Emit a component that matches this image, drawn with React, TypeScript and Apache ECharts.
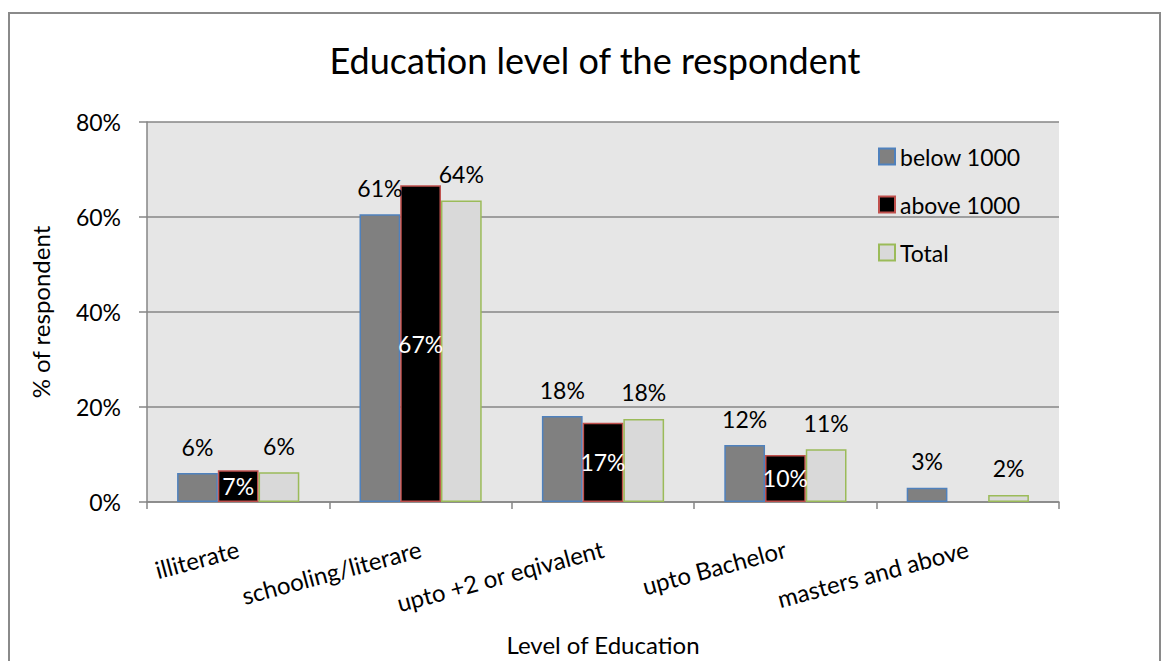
import React, { useEffect, useRef } from "react";
import * as echarts from "echarts";

const categories = [
  "illiterate",
  "schooling/literare",
  "upto +2 or eqivalent",
  "upto Bachelor",
  "masters and above",
];
const below1000 = [6.1, 60.6, 18.1, 12.0, 3.0];
const above1000 = [6.7, 66.7, 16.7, 9.9, null];
const total = [6.25, 63.5, 17.5, 11.1, 1.5];
const yTicks = { min: 0, max: 80, interval: 20 };

const FONT = "Lato, 'Open Sans', sans-serif";

export default function App() {
  const ref = useRef<HTMLDivElement>(null);
  useEffect(() => {
    document.body.style.margin = "0";
    const chart = echarts.init(ref.current!, null, { renderer: "svg" });
    const fmt = (p: any) =>
      p.value == null ? "" : Math.round(p.value) + "%";
    const outerLabel = {
      show: true,
      position: "top",
      distance: 15,
      color: "#000",
      fontSize: 23,
      fontFamily: FONT,
      formatter: fmt,
    };
    chart.setOption({
      animation: false,
      backgroundColor: "#ffffff",
      textStyle: { fontFamily: FONT },
      graphic: [
        {
          type: "rect",
          shape: { x: 9, y: 13, width: 1151, height: 700 },
          style: { fill: "none", stroke: "#8a8a8a", lineWidth: 2 },
          silent: true,
        },
      ],
      title: {
        text: "Education level of the respondent",
        left: 590,
        textAlign: "center",
        top: 37,
        textStyle: {
          fontFamily: FONT,
          fontSize: 36,
          fontWeight: "normal",
          color: "#000",
        },
      },
      legend: {
        orient: "vertical",
        left: 873,
        top: 139,
        itemWidth: 16,
        itemHeight: 16,
        itemGap: 23,
        icon: "rect",
        textStyle: {
          fontFamily: FONT,
          fontSize: 23,
          lineHeight: 25,
          color: "#000",
        },
        data: ["below 1000", "above 1000", "Total"],
      },
      grid: {
        left: 147,
        top: 122,
        right: 103,
        bottom: 155,
        show: true,
        backgroundColor: "#e6e6e6",
        borderWidth: 0,
      },
      xAxis: {
        type: "category",
        data: categories,
        name: "Level of Education",
        nameLocation: "middle",
        nameGap: 130,
        nameTextStyle: { fontFamily: FONT, fontSize: 24, color: "#000" },
        axisLine: { show: true, lineStyle: { color: "#868686", width: 1.5 } },
        axisTick: { show: true, length: 7, lineStyle: { color: "#868686", width: 1.5 } },
        axisLabel: {
          rotate: 15,
          margin: 46,
          fontSize: 24,
          fontFamily: FONT,
          color: "#000",
          interval: 0,
        },
      },
      yAxis: {
        type: "value",
        min: yTicks.min,
        max: yTicks.max,
        interval: yTicks.interval,
        name: "% of respondent",
        nameLocation: "middle",
        nameGap: 95,
        nameRotate: 90,
        nameTextStyle: { fontFamily: FONT, fontSize: 24, color: "#000" },
        axisLine: { show: true, lineStyle: { color: "#868686", width: 1.5 } },
        axisTick: { show: true, length: 8, lineStyle: { color: "#868686", width: 1.5 } },
        axisLabel: {
          formatter: "{value}%",
          margin: 26,
          fontSize: 23,
          fontFamily: FONT,
          color: "#000",
        },
        splitLine: { show: true, lineStyle: { color: "#868686", width: 1.5 } },
      },
      series: [
        {
          name: "below 1000",
          type: "bar",
          data: below1000,
          barGap: "0%",
          barCategoryGap: "33%",
          itemStyle: { color: "#808080", borderColor: "#4f81bd", borderWidth: 1.5 },
          label: outerLabel,
        },
        {
          name: "above 1000",
          type: "bar",
          data: above1000,
          barGap: "0%",
          barCategoryGap: "33%",
          itemStyle: { color: "#000000", borderColor: "#c0504d", borderWidth: 1.5 },
          label: {
            show: true,
            position: "inside",
            color: "#ffffff",
            fontSize: 23,
            fontFamily: FONT,
            formatter: fmt,
          },
        },
        {
          name: "Total",
          type: "bar",
          data: total,
          barGap: "0%",
          barCategoryGap: "33%",
          itemStyle: { color: "#d9d9d9", borderColor: "#9bbb59", borderWidth: 1.5 },
          label: outerLabel,
        },
      ],
    });
    return () => chart.dispose();
  }, []);
  return <div ref={ref} style={{ width: 1162, height: 661 }} />;
}
